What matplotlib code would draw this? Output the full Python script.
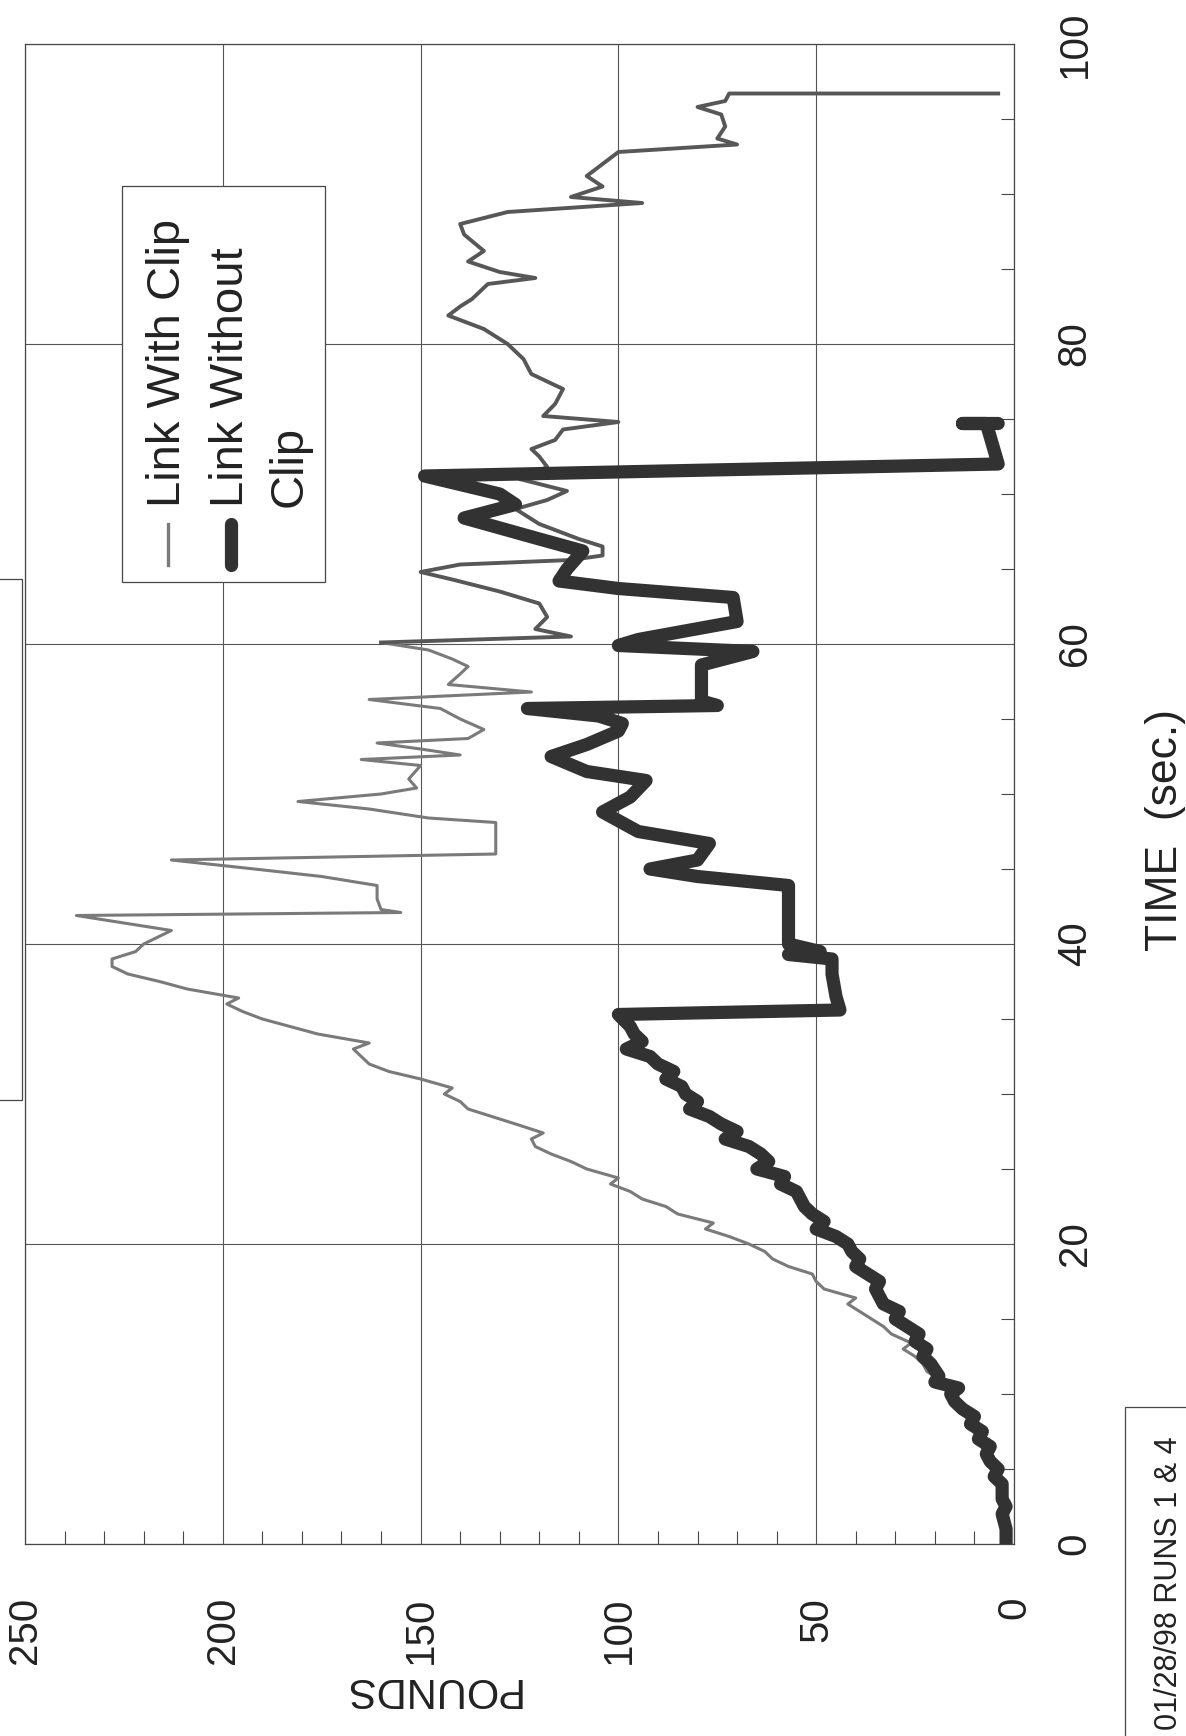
import numpy as np
import matplotlib
matplotlib.use("Agg")
import matplotlib.pyplot as plt
from matplotlib.patches import Rectangle

plt.rcParams['font.family'] = ['Liberation Sans', 'DejaVu Sans']

# axis ticks
pound_ticks = [0, 50, 100, 150, 200, 250]
time_ticks = [0, 20, 40, 60, 80, 100]

# Link With Clip (thin grey trace)
time_with = [0.0, 1.0, 2.0, 3.0, 4.0, 5.0, 5.5, 6.0, 6.5, 7.0, 7.5, 8.0, 8.5, 9.0, 9.5,
             10.0, 10.5, 11.0, 11.5, 12.0, 12.5, 13.0, 13.4, 14.0, 14.5, 15.0, 15.5, 16.0,
             16.4, 17.0, 17.5, 18.0, 18.5, 19.0, 19.5, 20.0, 20.5, 21.0, 21.4, 22.0, 22.5,
             23.0, 23.5, 24.0, 24.4, 25.0, 25.5, 26.0, 26.5, 27.0, 27.4, 28.0, 28.5, 29.0,
             29.5, 30.0, 30.4, 31.0, 31.5, 32.0, 32.5, 33.0, 33.4, 34.0, 34.5, 35.0, 35.5,
             36.0, 36.4, 37.0, 37.5, 38.0, 38.5, 39.0, 39.5, 40.0, 40.9, 41.9, 42.1, 42.3,
             43.0, 43.9, 44.5, 45.0, 45.6, 46.0, 46.2, 48.1, 48.4, 49.0, 49.5, 50.0, 50.4,
             51.0, 51.9, 52.3, 52.6, 53.0, 53.4, 53.7, 54.3, 55.0, 55.7, 56.3, 56.8, 57.3,
             58.0, 58.5, 59.0, 59.6, 60.1, 60.5, 61.0, 61.8, 62.7, 63.5, 64.3, 64.8, 65.3,
             65.6, 65.9, 66.5, 67.0, 68.0, 69.0, 69.6, 70.2, 71.0, 71.8, 72.5, 73.0, 73.6,
             74.3, 74.8, 75.2, 76.0, 77.0, 77.5, 78.0, 79.0, 80.0, 81.0, 81.9, 82.5, 83.0,
             84.0, 84.4, 84.8, 85.5, 86.2, 87.3, 88.0, 88.8, 89.4, 89.8, 90.5, 91.2, 92.0,
             92.8, 93.3, 93.7, 94.5, 95.3, 95.8, 96.2, 96.7, 96.7]
lbs_with = [2, 2, 3, 3, 4, 5, 7, 6, 8, 9, 8, 11, 12, 13, 15,
            16, 18, 19, 22, 23, 25, 28, 26, 31, 33, 36, 39, 42,
            40, 48, 50, 51, 57, 61, 63, 67, 72, 78, 76, 85, 88,
            94, 97, 102, 100, 108, 112, 117, 121, 122, 119, 126, 132, 138,
            140, 144, 142, 150, 158, 163, 165, 167, 163, 176, 183, 190, 195,
            199, 196, 209, 216, 224, 228, 228, 222, 220, 213, 237, 155, 160,
            161, 161, 175, 192, 213, 131, 131, 131, 148, 163, 181, 160, 151,
            153, 150, 165, 140, 150, 161, 138, 134, 140, 145, 163, 122, 143,
            140, 138, 142, 148, 160, 112, 121, 118, 120, 130, 142, 150, 140,
            112, 104, 104, 110, 120, 126, 118, 113, 125, 118, 120, 122, 116,
            114, 100, 119, 116, 114, 118, 122, 124, 128, 134, 143, 140, 137,
            133, 121, 130, 138, 134, 139, 140, 128, 94, 112, 104, 108, 104,
            100, 70, 75, 73, 74, 80, 73, 72, 4]

# Link Without Clip (heavy dark trace)
time_without = [0.0, 1.0, 2.0, 2.5, 3.0, 4.0, 4.5, 5.0, 5.5, 6.0, 6.5, 7.0, 7.5, 8.0, 8.5,
                9.0, 9.5, 10.0, 10.4, 10.8, 11.2, 12.0, 12.5, 13.0, 13.5, 14.0, 14.5, 15.0,
                15.5, 16.0, 16.5, 17.0, 17.5, 18.0, 18.5, 19.0, 19.5, 20.0, 20.5, 21.0, 21.5,
                22.0, 22.5, 23.0, 23.5, 24.0, 24.5, 25.0, 25.5, 26.0, 26.5, 27.0, 27.5, 28.0,
                28.5, 29.0, 29.5, 30.0, 30.5, 31.0, 31.5, 32.0, 32.5, 33.0, 33.5, 34.0, 34.5,
                35.3, 35.6, 36.5, 38.0, 39.0, 39.3, 39.5, 40.0, 42.0, 43.9, 44.5, 45.0, 45.6,
                46.7, 47.5, 48.8, 49.8, 50.9, 51.5, 52.5, 53.3, 54.2, 54.7, 55.2, 55.7, 55.9,
                56.2, 58.6, 59.5, 59.9, 60.3, 61.5, 63.1, 63.7, 64.2, 65.0, 66.2, 67.0, 68.4,
                69.3, 70.0, 71.2, 72.0, 74.7, 74.7, 74.7]
lbs_without = [2, 2, 3, 2, 3, 3, 5, 4, 6, 7, 6, 9, 8, 11, 10,
               13, 15, 16, 14, 20, 19, 21, 23, 22, 25, 24, 27, 30,
               29, 33, 34, 35, 34, 37, 40, 39, 41, 42, 45, 50, 48,
               51, 53, 54, 55, 59, 58, 65, 62, 64, 67, 73, 70, 74,
               77, 82, 80, 83, 84, 88, 86, 90, 92, 98, 94, 96, 97,
               100, 44, 45, 46, 46, 57, 49, 57, 57, 57, 80, 92, 80,
               77, 95, 104, 97, 93, 108, 117, 108, 100, 99, 105, 123, 75,
               79, 79, 66, 100, 95, 70, 71, 100, 115, 113, 109, 120, 139,
               126, 130, 149, 4, 7, 13, 4]

W, H = 1186, 1736
fig = plt.figure(figsize=(W / 100, H / 100), dpi=100)
fig.patch.set_facecolor('white')

# plot frame in pixel terms: x 25..1014, y 44..1544
ax = fig.add_axes([25 / W, 1 - 1544 / H, 989 / W, 1500 / H])

# the scanned grey trace gets darker/heavier in its second half
tw = np.array(time_with)
lw_ = np.array(lbs_with)
cut = int(np.searchsorted(tw, 60.0))
ax.plot(lw_[:cut + 1], tw[:cut + 1], color='#7a7a7a', lw=2.2, zorder=3,
        solid_joinstyle='round')
ax.plot(lw_[cut:], tw[cut:], color='#575757', lw=2.8, zorder=3,
        solid_joinstyle='round')
ax.plot(lbs_without, time_without, color='#323232', lw=9.5, zorder=4,
        solid_capstyle='round', solid_joinstyle='round')

ax.set_xlim(250, 0)
ax.set_ylim(0, 100)

edge = '#474747'
for s in ax.spines.values():
    s.set_color(edge)
    s.set_linewidth(0.9)

ax.set_xticks(pound_ticks)
ax.set_xticklabels([str(v) for v in pound_ticks])
ax.set_xticks(np.arange(0, 251, 10), minor=True)
ax.yaxis.tick_right()
ax.set_yticks(time_ticks)
ax.set_yticklabels([str(v) for v in time_ticks])
ax.set_yticks(np.arange(0, 101, 5), minor=True)

ax.grid(True, which='major', color='#555555', lw=0.8, zorder=1)
ax.tick_params(axis='x', which='major', length=0, pad=38, labelsize=29,
               labelrotation=90)
ax.tick_params(axis='x', which='minor', direction='in', length=9.5, width=0.8,
               color=edge, bottom=True, top=False)
ax.tick_params(axis='y', which='major', length=0, pad=30, labelsize=29,
               labelrotation=90, right=True, left=False)
ax.tick_params(axis='y', which='minor', direction='in', length=9.5, width=0.8,
               color=edge, right=True, left=False)
for lbl in ax.get_yticklabels():
    lbl.set_va('center')
for lbl in ax.get_xticklabels() + ax.get_yticklabels():
    lbl.set_color('#222222')

ax.set_xlabel('POUNDS', fontsize=30, rotation=180, va='center', color='#222222')
ax.xaxis.set_label_coords(0.41, -0.097)
ax.yaxis.set_label_position('right')
ax.set_ylabel('TIME  (sec.)', fontsize=32, rotation=90, va='center', ha='center',
              color='#222222')
ax.yaxis.set_label_coords(1.153, 0.476)


def ax_xy(px, py):
    return (px - 25) / 989, (1544 - py) / 1500


# legend box (rotated, drawn by hand)
x0, y0 = ax_xy(122, 582)
x1, y1 = ax_xy(325, 186)
ax.add_patch(Rectangle((x0, y0), x1 - x0, y1 - y0, transform=ax.transAxes,
                       facecolor='white', edgecolor=edge, lw=0.9, zorder=5))
_, sy0 = ax_xy(0, 565)
_, sy1 = ax_xy(0, 524)
_, ty = ax_xy(0, 507)
sx, _ = ax_xy(168, 0)
ax.plot([sx, sx], [sy0, sy1], transform=ax.transAxes, color='#7a7a7a', lw=2.4,
        zorder=6)
ax.text(sx, ty, 'Link With Clip', transform=ax.transAxes, rotation=90,
        ha='center', va='bottom', fontsize=34, color='#222222', zorder=6)
sx, _ = ax_xy(231, 0)
ax.plot([sx, sx], [sy0, sy1], transform=ax.transAxes, color='#323232', lw=9.5,
        solid_capstyle='round', zorder=6)
ax.text(sx, ty, 'Link Without', transform=ax.transAxes, rotation=90,
        ha='center', va='bottom', fontsize=34, color='#222222', zorder=6)
tx2, _ = ax_xy(290, 0)
ax.text(tx2, ty, 'Clip', transform=ax.transAxes, rotation=90,
        ha='center', va='bottom', fontsize=34, color='#222222', zorder=6)

# title box, mostly cut off at the left edge of the scan
fig.add_artist(Rectangle((-10 / W, 1 - 1100 / H), 32 / W, 521 / H,
                         transform=fig.transFigure, facecolor='white',
                         edgecolor=edge, lw=0.9))

# run stamp, bottom right
fig.text(1169 / W, 1 - 1583 / H, '01/28/98 RUNS 1 & 4', rotation=90,
         ha='center', va='center', fontsize=22, color='#222222',
         bbox=dict(boxstyle='square,pad=0.95', facecolor='white',
                   edgecolor=edge, lw=0.9))

fig.savefig('out.png', dpi=100)
